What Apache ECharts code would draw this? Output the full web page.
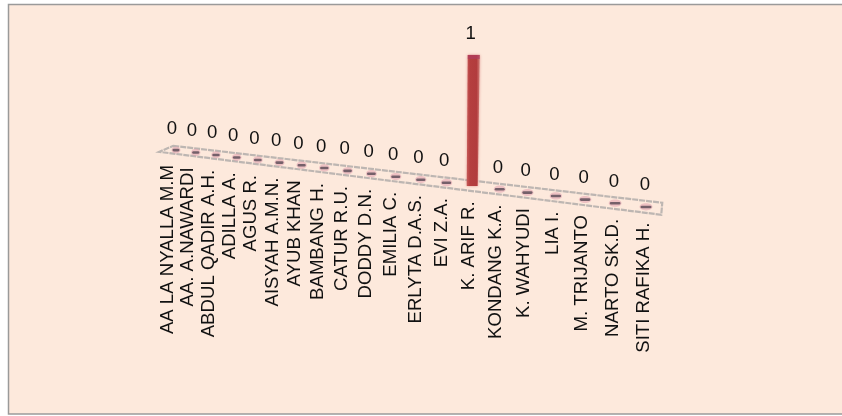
<!DOCTYPE html>
<html>
<head>
<meta charset="utf-8">
<style>
  html, body { margin: 0; padding: 0; background: #ffffff; }
  #chart { width: 842px; height: 416px; }
</style>
<script src="https://cdn.jsdelivr.net/npm/echarts@6/dist/echarts.min.js"></script>
</head>
<body>
<div id="chart"></div>
<script>
// Attendance counts per person
const categories = [
  'AA LA NYALLA M.M', 'AA. A.NAWARDI', 'ABDUL QADIR A.H.', 'ADILLA A.', 'AGUS R.',
  'AISYAH A.M.N.', 'AYUB KHAN', 'BAMBANG H.', 'CATUR R.U.', 'DODDY D.N.',
  'EMILIA C.', 'ERLYTA D.A.S.', 'EVI Z.A.', 'K. ARIF R.', 'KONDANG K.A.',
  'K. WAHYUDI', 'LIA I.', 'M. TRIJANTO', 'NARTO SK.D.', 'SITI RAFIKA H.'
];
const values = [0, 0, 0, 0, 0, 0, 0, 0, 0, 0, 0, 0, 0, 1, 0, 0, 0, 0, 0, 0];

// Oblique view: the plot's x is foreshortened and its floor slopes downward to the right
const PLOT_LEFT = 176, PLOT_WIDTH = 470, PLOT_BOTTOM = 150, UNIT_HEIGHT = 131;
const FORESHORTEN = 1.265, FLOOR_SLOPE = 0.121;
const FONT = '"Liberation Sans", Arial, sans-serif';
const LABEL_SIZE = 18.6;

function ease(t) { return t / (t + FORESHORTEN * (1 - t)); }
function fraction(px) { return (px - PLOT_LEFT) / PLOT_WIDTH; }
function view(px, py) {
  const sx = PLOT_LEFT + PLOT_WIDTH * ease(fraction(px));
  const sy = PLOT_BOTTOM + FLOOR_SLOPE * (sx - PLOT_LEFT) + (py - PLOT_BOTTOM);
  return [sx, sy];
}

function renderFloor(params, api) {
  const a = api.coord([0, 0]), b = api.coord([categories.length - 1, 0]);
  const half = (b[0] - a[0]) / (categories.length - 1) / 2;
  const l = view(a[0] - half, a[1]), r = view(b[0] + half, b[1]);
  const points = [
    [l[0] + 7, l[1] - 3], [r[0] + 0.5, r[1] - 6],
    [r[0] - 0.5, r[1] + 6], [l[0] - 7, l[1] + 3]
  ];
  return {
    type: 'polygon',
    shape: { points: points },
    style: { fill: 'rgba(253,233,220,0.4)', stroke: '#bdb6b2', lineWidth: 2.2, lineDash: [6, 1] }
  };
}

function renderColumn(params, api) {
  const i = api.value(0), v = api.value(1);
  const p0 = api.coord([i, 0]), p1 = api.coord([i, v]);
  const base = view(p0[0], p0[1]);
  const top = view(p1[0], p1[1]);
  const t = fraction(p0[0]);
  const w = 7 + 4 * t;
  const children = [];
  if (v > 0) {
    children.push({
      type: 'polygon',
      shape: { points: [
        [base[0] - 6, base[1]], [base[0] - 5, top[1]],
        [base[0] + 7, top[1]], [base[0] + 5, base[1]]
      ] },
      style: {
        fill: new echarts.graphic.LinearGradient(0, 0, 1, 0, [
          { offset: 0, color: '#c65b58' },
          { offset: 0.25, color: '#b53f3f' },
          { offset: 0.75, color: '#b23c3d' },
          { offset: 1, color: '#cf7a74' }
        ]),
        shadowBlur: 3,
        shadowColor: 'rgba(205,90,90,0.6)'
      }
    });
    children.push({
      type: 'rect',
      shape: { x: base[0] - 5, y: top[1], width: 12, height: 4 },
      style: { fill: 'rgba(175,60,95,0.7)' }
    });
  } else {
    children.push({
      type: 'ellipse',
      shape: { cx: base[0], cy: base[1], rx: w / 2 + 1, ry: 3.6 },
      style: { fill: 'rgba(225,160,175,0.55)' }
    });
    children.push({
      type: 'rect',
      shape: { x: base[0] - w / 2, y: base[1] - 1.2, width: w, height: 2.6, r: 1.3 },
      style: { fill: '#75606a' }
    });
  }
  return { type: 'group', children: children };
}

function renderValueLabel(params, api) {
  const i = api.value(0), v = api.value(1);
  const p = api.coord([i, v]);
  const t = fraction(p[0]);
  const q = view(p[0], p[1]);
  return {
    type: 'text',
    x: 172 + 473 * ease(t),
    y: q[1] - 21.5,
    style: { text: String(v), font: LABEL_SIZE + 'px ' + FONT, fill: '#111111', align: 'center', verticalAlign: 'middle' }
  };
}

function renderCategoryLabel(params, api) {
  const i = api.value(0);
  const p = api.coord([i, 0]);
  const t = fraction(p[0]);
  const sx = 168 + 476 * ease(t);
  return {
    type: 'text',
    x: sx,
    y: 165 + FLOOR_SLOPE * (sx - 168),
    rotation: Math.PI / 2,
    style: { text: categories[i], font: LABEL_SIZE + 'px ' + FONT, fill: '#111111', align: 'right', verticalAlign: 'middle' }
  };
}

const chart = echarts.init(document.getElementById('chart'), null, { renderer: 'canvas' });
const rows = values.map((v, i) => [i, v]);
const frame = { left: 8.5, top: 4.5 };

chart.setOption({
  animation: false,
  backgroundColor: '#ffffff',
  graphic: [{
    type: 'rect',
    silent: true,
    z: -10,
    shape: { x: frame.left, y: frame.top, width: 842, height: 409.5 },
    style: { fill: '#fde9dc', stroke: '#9a9a9a', lineWidth: 1.5 }
  }],
  grid: {
    left: PLOT_LEFT,
    width: PLOT_WIDTH,
    top: PLOT_BOTTOM - UNIT_HEIGHT,
    height: UNIT_HEIGHT
  },
  xAxis: { type: 'category', data: categories, boundaryGap: false, show: false },
  yAxis: { type: 'value', min: 0, max: 1, show: false },
  series: [
    { type: 'custom', data: [[0, 0]], renderItem: renderFloor, clip: false, silent: true, z: 1 },
    { type: 'custom', data: rows, renderItem: renderColumn, clip: false, silent: true, z: 2 },
    { type: 'custom', data: rows, renderItem: renderValueLabel, clip: false, silent: true, z: 3 },
    { type: 'custom', data: rows, renderItem: renderCategoryLabel, clip: false, silent: true, z: 3 }
  ]
});
</script>
</body>
</html>
